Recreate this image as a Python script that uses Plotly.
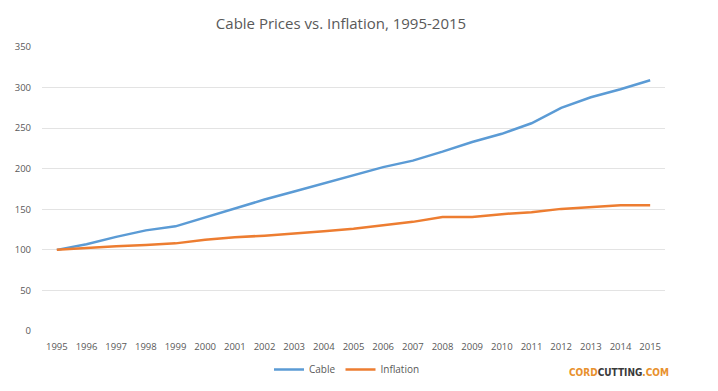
import plotly.graph_objects as go

years = list(range(1995, 2016))
cable = [100, 107, 116, 124, 129, 140, 151, 162, 172, 182, 192, 202, 210, 221,
         233, 243, 256, 275, 288, 298, 309]
inflation = [100, 102.5, 104.5, 106, 108, 112.5, 115.5, 117.5, 120, 123, 126,
             130.5, 134.5, 140.5, 140.5, 144, 146.5, 150.5, 153, 155, 155]
y_ticks = [0, 50, 100, 150, 200, 250, 300, 350]

W, H = 710, 383
L, R, T, B = 34, 53, 39, 60
plot_h = H - T - B
plot_w = W - L - R

fig = go.Figure()
fig.add_trace(go.Scatter(x=years, y=cable, mode="lines", name="Cable",
                         line=dict(color="#5B9BD5", width=2.5)))
fig.add_trace(go.Scatter(x=years, y=inflation, mode="lines", name="Inflation",
                         line=dict(color="#ED7D31", width=2.5)))

fig.update_layout(
    width=W, height=H,
    margin=dict(l=L, r=R, t=T, b=B, autoexpand=False),
    paper_bgcolor="white", plot_bgcolor="white",
    font=dict(family="Open Sans, Calibri, sans-serif", color="#595959", size=10),
    title=dict(text="Cable Prices vs. Inflation, 1995-2015", x=333 / W, xanchor="center",
               y=1 - 16 / H, yanchor="middle",
               font=dict(size=15, color="#595959", family="Open Sans, sans-serif")),
    xaxis=dict(range=[1994.5, 2015.5], tickmode="array", tickvals=years,
               ticktext=[str(y) for y in years], showgrid=False, zeroline=False,
               showline=False, ticks="", ticklabelstandoff=8, fixedrange=True,
               automargin=False, tickfont=dict(size=9.5, color="#595959")),
    yaxis=dict(range=[0, 350], tickmode="array", tickvals=y_ticks,
               showgrid=True, gridcolor="#E3E3E3", gridwidth=1, zeroline=False,
               ticks="", ticklabelstandoff=10, fixedrange=True, automargin=False,
               tickfont=dict(size=9.5, color="#595959")),
    legend=dict(orientation="h", x=(339 - L) / plot_w, xanchor="center",
                y=-(347 - (H - B)) / plot_h,
                yanchor="top", itemwidth=30, font=dict(size=10, color="#595959")),
    showlegend=True,
)

fig.add_annotation(
    text="<b><span style='color:#E8912D'>CORD</span><span style='color:#3A3A3A'>CUTTING</span><span style='color:#E8912D'>.COM</span></b>",
    xref="paper", yref="paper", x=(663 - L) / plot_w, y=-(364 - (H - B)) / plot_h,
    xanchor="right", yanchor="middle", showarrow=False,
    font=dict(family="DejaVu Sans Condensed, sans-serif", size=10),
)

fig.write_html("out.html")
